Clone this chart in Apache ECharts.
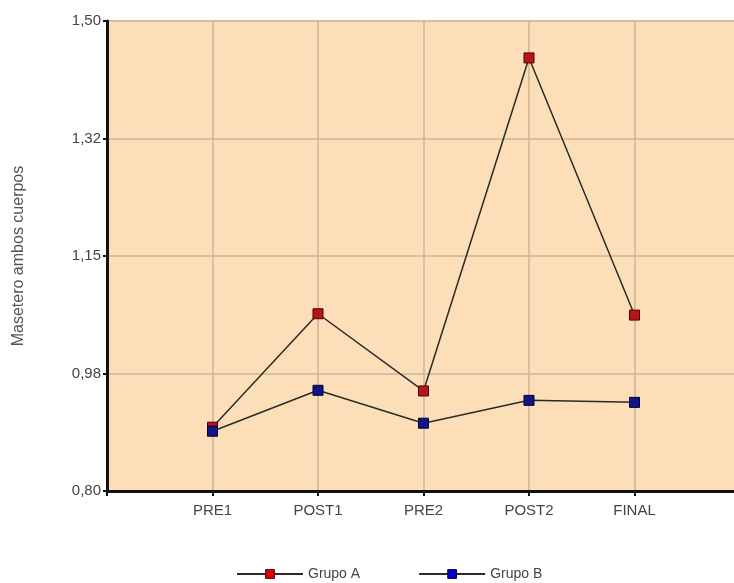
<!DOCTYPE html>
<html>
<head>
<meta charset="utf-8">
<script src="https://cdn.jsdelivr.net/npm/echarts@6/dist/echarts.min.js"></script>
<style>
html,body{margin:0;padding:0;background:#fff;}
#chart{width:734px;height:583px;}
</style>
</head>
<body>
<div id="chart"></div>
<script>
var categories = ['PRE1', 'POST1', 'PRE2', 'POST2', 'FINAL'];
var grupoA = [0.895, 1.064, 0.949, 1.445, 1.062];
var grupoB = [0.889, 0.950, 0.901, 0.935, 0.932];
var yTickLabels = ['0,80', '0,98', '1,15', '1,32', '1,50'];
var yMin = 0.80, yMax = 1.50, yStep = 0.175;

var axisCats = [''].concat(categories).concat(['']);
function pad(arr) { return [null].concat(arr).concat([null]); }

var chart = echarts.init(document.getElementById('chart'));
chart.setOption({
  animation: false,
  backgroundColor: '#ffffff',
  textStyle: { fontFamily: 'Liberation Sans, Arial, sans-serif' },
  grid: {
    left: 107, top: 21, width: 633, bottom: 92,
    outerBoundsMode: 'none',
    containLabel: false,
    show: true, backgroundColor: '#fcdeb9', borderColor: '#c4c4c4', borderWidth: 1
  },
  xAxis: {
    type: 'category',
    data: axisCats,
    boundaryGap: false,
    axisLine: { lineStyle: { color: '#111', width: 3 } },
    axisTick: { length: 5, lineStyle: { color: '#111', width: 2 } },
    axisLabel: { color: '#444', fontSize: 15, margin: 12 },
    splitLine: { show: true, lineStyle: { color: '#cfb597', width: 1.5 } }
  },
  yAxis: {
    type: 'value',
    min: yMin, max: yMax, interval: yStep,
    name: 'Masetero ambos cuerpos',
    nameLocation: 'middle',
    nameRotate: 90,
    nameGap: 80,
    nameTextStyle: { color: '#555', fontSize: 16 },
    axisLine: { show: true, lineStyle: { color: '#111', width: 3 } },
    axisTick: { show: true, length: 4, lineStyle: { color: '#111', width: 2 } },
    axisLabel: {
      color: '#444', fontSize: 15, margin: 6,
      formatter: function (v) { return yTickLabels[Math.round((v - yMin) / yStep)]; }
    },
    splitLine: { show: true, lineStyle: { color: '#cfb597', width: 1.5 } }
  },
  legend: {
    left: 231, top: 562,
    itemWidth: 66, itemHeight: 11, itemGap: 58,
    textStyle: { color: '#444', fontSize: 14 },
    data: [
      { name: 'Grupo A', itemStyle: { color: '#e00000', borderColor: '#550000', borderWidth: 1 } },
      { name: 'Grupo B', itemStyle: { color: '#0000cc', borderColor: '#000040', borderWidth: 1 } }
    ]
  },
  series: [
    {
      name: 'Grupo A', type: 'line', data: pad(grupoA),
      symbol: 'rect', symbolSize: 10,
      lineStyle: { color: '#2a2a2a', width: 1.5 },
      itemStyle: { color: '#b8141c', borderColor: '#4a0000', borderWidth: 1 }
    },
    {
      name: 'Grupo B', type: 'line', data: pad(grupoB),
      symbol: 'rect', symbolSize: 10,
      lineStyle: { color: '#2a2a2a', width: 1.5 },
      itemStyle: { color: '#14148a', borderColor: '#000030', borderWidth: 1 }
    }
  ]
});
</script>
</body>
</html>
